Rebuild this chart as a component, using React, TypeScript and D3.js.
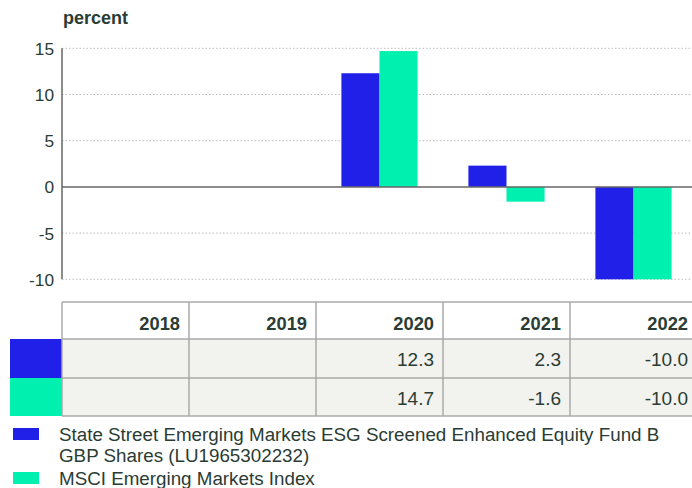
import React from "react";
import * as d3 from "d3";

const years = ["2018", "2019", "2020", "2021", "2022"];
const fundValues: (number | null)[] = [null, null, 12.3, 2.3, -10.0];
const indexValues: (number | null)[] = [null, null, 14.7, -1.6, -10.0];
const seriesNames = [
  ["State Street Emerging Markets ESG Screened Enhanced Equity Fund B", "GBP Shares (LU1965302232)"],
  ["MSCI Emerging Markets Index"],
];
const seriesColors = ["#2020e8", "#00f0b0"];
const yTicks = [15, 10, 5, 0, -5, -10];
const yLabel = "percent";

const W = 692;
const H = 488;
const FONT = "'Liberation Sans', Arial, sans-serif";
const TEXT = "#2a3c34";

export default function App() {
  const x = d3.scaleBand<string>().domain(years).range([62, 697]).paddingInner(0).paddingOuter(0);
  const y = d3.scaleLinear().domain([-10, 15]).range([279.3, 48.3]);
  const series = [fundValues, indexValues];
  const bw = x.bandwidth() * 0.3;
  const rowTops = [302, 339, 378, 416];

  return (
    <svg width={W} height={H} style={{ position: "absolute", left: 0, top: 0, background: "#fff" }} fontFamily={FONT}>
      <text x={63} y={24} fontSize={18} fontWeight="bold" fill={TEXT}>{yLabel}</text>
      {yTicks.filter((t) => t !== 0).map((t) => (
        <line key={"g" + t} x1={62} x2={W} y1={y(t)} y2={y(t)} stroke="#bdbdbd" strokeWidth={1} strokeDasharray="1.5,2" />
      ))}
      {yTicks.map((t) => (
        <text key={"t" + t} x={54} y={y(t) + 6.5} fontSize={17.3} textAnchor="end" fill={TEXT}>{t}</text>
      ))}
      {series.map((vals, si) =>
        vals.map((v, i) => {
          if (v === null) return null;
          const cx = (x(years[i]) as number) + x.bandwidth() / 2;
          const bx = cx - bw + si * bw;
          const y0 = y(0);
          const y1 = y(v);
          return (
            <rect key={si + "-" + i} x={bx} y={Math.min(y0, y1)} width={bw} height={Math.abs(y1 - y0)} fill={seriesColors[si]} />
          );
        })
      )}
      <line x1={62} x2={W} y1={y(0)} y2={y(0)} stroke="#666" strokeWidth={1.5} />
      <line x1={62} x2={62} y1={y(15)} y2={y(-10)} stroke="#666" strokeWidth={1.5} />

      {/* table */}
      <rect x={62} y={rowTops[1]} width={W - 62} height={rowTops[3] - rowTops[1]} fill="#f2f2ee" />
      {series.map((_, si) => (
        <rect key={"sw" + si} x={10} y={rowTops[si + 1]} width={52} height={rowTops[si + 2] - rowTops[si + 1]} fill={seriesColors[si]} />
      ))}
      {rowTops.map((ry, i) => (
        <line key={"h" + i} x1={62} x2={W} y1={ry} y2={ry} stroke="#aaa" strokeWidth={1.5} />
      ))}
      {years.map((yr) => (
        <line key={"v" + yr} x1={x(yr) as number} x2={x(yr) as number} y1={rowTops[0]} y2={rowTops[3]} stroke="#aaa" strokeWidth={1.5} />
      ))}
      {years.map((yr) => (
        <text key={"hd" + yr} x={(x(yr) as number) + x.bandwidth() - 9} y={330} fontSize={18.3} fontWeight="bold" textAnchor="end" fill={TEXT}>{yr}</text>
      ))}
      {series.map((vals, si) =>
        vals.map((v, i) =>
          v === null ? null : (
            <text key={"c" + si + i} x={(x(years[i]) as number) + x.bandwidth() - 9} y={si === 0 ? 365.5 : 404.5} fontSize={19} textAnchor="end" fill={TEXT}>
              {v.toFixed(1)}
            </text>
          )
        )
      )}

      {/* legend */}
      {seriesNames.map((lines, si) => {
        const top = si === 0 ? 428 : 472;
        return (
          <g key={"lg" + si}>
            <rect x={13} y={top} width={26} height={12} fill={seriesColors[si]} />
            {lines.map((ln, li) => (
              <text key={li} x={59} y={top + 13 + li * 21} fontSize={18.8} fill={TEXT}>{ln}</text>
            ))}
          </g>
        );
      })}
    </svg>
  );
}
